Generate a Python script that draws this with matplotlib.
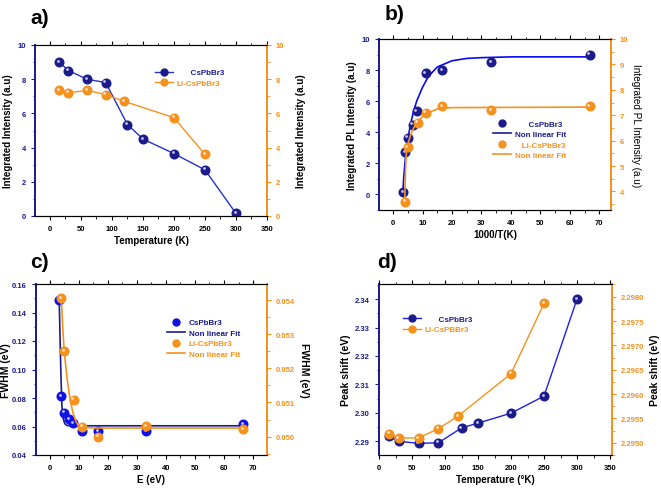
import matplotlib
matplotlib.use("Agg")
import matplotlib.pyplot as plt
import matplotlib.transforms as mtransforms
from matplotlib.lines import Line2D
from matplotlib.ticker import AutoMinorLocator, FormatStrFormatter

plt.rcParams['font.family'] = ['Liberation Sans', 'DejaVu Sans']
plt.rcParams['font.weight'] = 'bold'

NAVY = '#1b1b8c'
BLUE = '#2233cc'
BRIGHT = '#1010e8'
ORANGE = '#f5921e'

# a) integrated intensity vs temperature
temp_cs = [15, 30, 60, 90, 125, 150, 200, 250, 300]
int_cs = [9.0, 8.5, 8.0, 7.8, 5.35, 4.5, 3.65, 2.7, 0.15]
temp_li = [15, 30, 60, 90, 120, 200, 250]
int_li = [7.35, 7.2, 7.35, 7.1, 6.7, 5.75, 3.6]

# b) integrated PL vs 1000/T
invt_cs = [3.33, 4.0, 5.0, 6.67, 8.0, 11.1, 16.7, 33.3, 66.7]
pl_cs = [0.15, 2.7, 3.65, 4.5, 5.35, 7.8, 8.0, 8.5, 9.0]
invt_li = [4.0, 5.0, 8.33, 11.1, 16.7, 33.3, 66.7]
pl_li = [3.6, 5.75, 6.7, 7.1, 7.35, 7.2, 7.35]
fitb_cs_x = [3.3, 3.6, 4.0, 4.5, 5.0, 6.0, 7.0, 8.0, 10, 12, 15, 20, 25, 30, 40, 67]
fitb_cs_y = [0.1, 1.1, 2.0, 2.9, 3.6, 4.6, 5.4, 6.0, 6.9, 7.6, 8.2, 8.6, 8.75, 8.8, 8.85, 8.85]
fitb_li_x = [3.95, 4.1, 4.2, 4.35, 4.5, 5, 6, 7, 8, 10, 12, 15, 20, 67]
fitb_li_y = [3.6, 4.4, 4.8, 5.2, 5.5, 5.85, 6.25, 6.5, 6.7, 6.95, 7.1, 7.25, 7.3, 7.32]

# c) FWHM
fwhm_cs = [0.1488, 0.0812, 0.0697, 0.0653, 0.0623, 0.0566, 0.0566, 0.0566, 0.0615]
fwhm_li = [0.05405, 0.0525, 0.05108, 0.05029, 0.0500, 0.0503, 0.05022]
fitc_cs_x = [3.3, 3.6, 3.9, 4.2, 4.6, 5.2, 6.0, 8.0, 67]
fitc_cs_y = [0.148, 0.12, 0.095, 0.075, 0.066, 0.062, 0.0607, 0.0605, 0.0605]
fitc_li_x = [4.0, 4.5, 5.0, 6.0, 7.0, 8.0, 9.0, 10.0, 12.0, 15.0, 67]
fitc_li_y = [0.05405, 0.0532, 0.0525, 0.0517, 0.0511, 0.0507, 0.05045, 0.0503, 0.05027, 0.05025, 0.05025]

# d) peak shift
peak_cs = [2.2918, 2.2900, 2.2893, 2.2895, 2.2947, 2.2964, 2.2999, 2.3059, 2.3400]
peak_li = [2.29519, 2.29510, 2.29510, 2.29529, 2.29555, 2.29642, 2.29786]

W, H = 661, 489
fig = plt.figure(figsize=(W / 100, H / 100), dpi=100)


def make_axes(x0, x1, y0, y1):
    return fig.add_axes([x0 / W, (H - y1) / H, (x1 - x0) / W, (y1 - y0) / H])


def balls(ax, x, y, color, line=None, lw=1.0):
    ax.plot(x, y, linestyle='-' if line else 'none', color=line or color, lw=lw,
            marker='o', ms=6.2, mfc=color, mec=color, zorder=3)
    hl = mtransforms.offset_copy(ax.transData, fig=fig, x=-1.0, y=1.0, units='points')
    ax.plot(x, y, linestyle='none', marker='o', ms=2.0, mfc='white', mec='none',
            alpha=0.75, transform=hl, zorder=4)


def style(ax, axr, lcol, rcol):
    for a in (ax, axr):
        a.spines['left'].set_color(lcol)
        a.spines['right'].set_color(rcol)
        a.spines['left'].set_linewidth(1.3)
        a.spines['right'].set_linewidth(1.3)
    ax.tick_params(axis='y', colors=lcol, labelsize=5.5, length=3, width=0.8)
    ax.tick_params(axis='y', which='minor', colors=lcol, length=1.8, width=0.6)
    axr.tick_params(axis='y', colors=rcol, labelsize=5.5, length=3, width=0.8)
    axr.tick_params(axis='y', which='minor', colors=rcol, length=1.8, width=0.6)
    ax.tick_params(axis='x', labelsize=5.5, length=3, width=0.8, top=True)
    ax.tick_params(axis='x', which='minor', length=1.8, width=0.6, top=True)
    for a in (ax, axr):
        a.yaxis.set_minor_locator(AutoMinorLocator(2))
    ax.xaxis.set_minor_locator(AutoMinorLocator(2))
    for lab in ax.get_yticklabels() + axr.get_yticklabels() + ax.get_xticklabels():
        lab.set_fontweight('bold')


def legend(ax, handles, labels, colors, anchor, **kw):
    leg = ax.legend(handles, labels, loc='upper left', bbox_to_anchor=anchor,
                    frameon=False, prop={'size': 5.8, 'weight': 'bold'},
                    handlelength=2.2, handletextpad=0.5, borderpad=0,
                    labelspacing=0.35, **kw)
    for t, c in zip(leg.get_texts(), colors):
        t.set_color(c)
    return leg


# ---------- a)
ax = make_axes(35, 267, 46, 217)
axr = ax.twinx()
balls(ax, temp_cs, int_cs, NAVY, line=BLUE)
balls(axr, temp_li, int_li, ORANGE, line=ORANGE)
ax.set_xlim(-24, 350)
ax.set_ylim(0, 10)
axr.set_ylim(0, 10)
ax.set_xticks(range(0, 351, 50))
ax.set_yticks(range(0, 11, 2))
axr.set_yticks(range(0, 11, 2))
style(ax, axr, NAVY, ORANGE)
ax.set_xlabel('Temperature (K)', fontsize=7, fontweight='bold', labelpad=2)
ax.set_ylabel('Integrated Intensity (a.u)', fontsize=7, fontweight='bold', labelpad=3)
axr.set_ylabel('Integrated Intensity (a.u)', fontsize=7, fontweight='bold', labelpad=8,
               rotation=90)
h = [Line2D([], [], color=BLUE, marker='o', mfc=NAVY, mec=NAVY, ms=5, lw=1),
     Line2D([], [], color=ORANGE, marker='o', mfc=ORANGE, mec=ORANGE, ms=5, lw=1)]
legend(axr, h, ['      CsPbBr3', 'Li-CsPbBr3'], [NAVY, ORANGE], (0.5, 0.885))
fig.text(30 / W, 1 - 18 / H, 'a)', fontsize=15, fontweight='bold', va='center')

# ---------- b)
ax = make_axes(379, 611, 40, 211)
axr = ax.twinx()
ax.plot(fitb_cs_x, fitb_cs_y, color='#0a0af0', lw=1.2, zorder=2)
axr.plot(fitb_li_x, fitb_li_y, color=ORANGE, lw=1.2, zorder=2)
balls(ax, invt_cs, pl_cs, NAVY)
balls(axr, invt_li, pl_li, ORANGE)
ax.set_xlim(-4.8, 74)
ax.set_ylim(-1, 10)
axr.set_ylim(3.27, 10)
ax.set_xticks(range(0, 71, 10))
ax.set_yticks(range(0, 11, 2))
axr.set_yticks(range(4, 11, 1))
style(ax, axr, NAVY, ORANGE)
ax.set_xlabel('1000/T(K)', fontsize=7, fontweight='bold', labelpad=2)
ax.set_ylabel('Integrated PL Intensity (a.u)', fontsize=7, fontweight='bold', labelpad=3)
axr.set_ylabel('Integrated PL Intensity (a.u)', fontsize=7.2, fontweight='normal',
               labelpad=9, rotation=270)
h = [Line2D([], [], ls='none', marker='o', mfc=NAVY, mec=NAVY, ms=5),
     Line2D([], [], color=NAVY, lw=1.2),
     Line2D([], [], ls='none', marker='o', mfc=ORANGE, mec=ORANGE, ms=5),
     Line2D([], [], color=ORANGE, lw=1.2)]
legend(axr, h, ['      CsPbBr3', 'Non linear Fit', '   Li-CsPbBr3', 'Non linear Fit'],
       [NAVY, NAVY, ORANGE, ORANGE], (0.475, 0.55))
fig.text(385 / W, 1 - 15 / H, 'b)', fontsize=15, fontweight='bold', va='center')

# ---------- c)
ax = make_axes(36, 267, 285, 456)
axr = ax.twinx()
ax.plot(fitc_cs_x, fitc_cs_y, color=NAVY, lw=1.2, zorder=2)
axr.plot(fitc_li_x, fitc_li_y, color=ORANGE, lw=1.2, zorder=2)
balls(ax, invt_cs, fwhm_cs, BRIGHT)
balls(axr, invt_li, fwhm_li, ORANGE)
ax.set_xlim(-4.7, 74.8)
ax.set_ylim(0.04, 0.16)
axr.set_ylim(0.04946, 0.05447)
ax.set_xticks(range(0, 71, 10))
ax.set_yticks([0.04, 0.06, 0.08, 0.10, 0.12, 0.14, 0.16])
axr.set_yticks([0.050, 0.051, 0.052, 0.053, 0.054])
ax.yaxis.set_major_formatter(FormatStrFormatter('%.2f'))
axr.yaxis.set_major_formatter(FormatStrFormatter('%.3f'))
style(ax, axr, NAVY, ORANGE)
ax.set_xlabel('E (eV)', fontsize=7, fontweight='bold', labelpad=2)
ax.set_ylabel('FWHM (eV)', fontsize=7.5, fontweight='bold', labelpad=1)
axr.set_ylabel('FWHM (eV)', fontsize=7.5, fontweight='bold', labelpad=10, rotation=270)
h = [Line2D([], [], ls='none', marker='o', mfc=BRIGHT, mec=BRIGHT, ms=5),
     Line2D([], [], color=NAVY, lw=1.2),
     Line2D([], [], ls='none', marker='o', mfc=ORANGE, mec=ORANGE, ms=5),
     Line2D([], [], color=ORANGE, lw=1.2)]
legend(axr, h, ['CsPbBr3', 'Non linear Fit', 'Li-CsPbBr3', 'Non linear Fit'],
       [NAVY, NAVY, ORANGE, ORANGE], (0.55, 0.82))
fig.text(30 / W, 1 - 263 / H, 'c)', fontsize=15, fontweight='bold', va='center')

# ---------- d)
ax = make_axes(379, 612, 285, 456)
axr = ax.twinx()
balls(ax, temp_cs, peak_cs, NAVY, line='#2020e0')
balls(axr, temp_li, peak_li, ORANGE, line=ORANGE)
ax.set_xlim(0, 353)
ax.set_ylim(2.2852, 2.3453)
axr.set_ylim(2.29475, 2.29826)
ax.set_xticks(range(0, 351, 50))
ax.set_yticks([2.29, 2.30, 2.31, 2.32, 2.33, 2.34])
axr.set_yticks([2.2950, 2.2955, 2.2960, 2.2965, 2.2970, 2.2975, 2.2980])
ax.yaxis.set_major_formatter(FormatStrFormatter('%.2f'))
axr.yaxis.set_major_formatter(FormatStrFormatter('%.4f'))
style(ax, axr, NAVY, ORANGE)
ax.set_xlabel('Temperature (°K)', fontsize=7, fontweight='bold', labelpad=2)
ax.set_ylabel('Peak shift (eV)', fontsize=7.5, fontweight='bold', labelpad=3)
axr.set_ylabel('Peak shift (eV)', fontsize=7.5, fontweight='bold', labelpad=4, rotation=90)
h = [Line2D([], [], color='#2020e0', marker='o', mfc=NAVY, mec=NAVY, ms=5, lw=1),
     Line2D([], [], color=ORANGE, marker='o', mfc=ORANGE, mec=ORANGE, ms=5, lw=1)]
legend(axr, h, ['      CsPbBr3', 'Li-CsPBBr3'], [NAVY, ORANGE], (0.085, 0.84))
fig.text(377 / W, 1 - 263 / H, 'd)', fontsize=15, fontweight='bold', va='center')

fig.savefig('out.png', dpi=100)
